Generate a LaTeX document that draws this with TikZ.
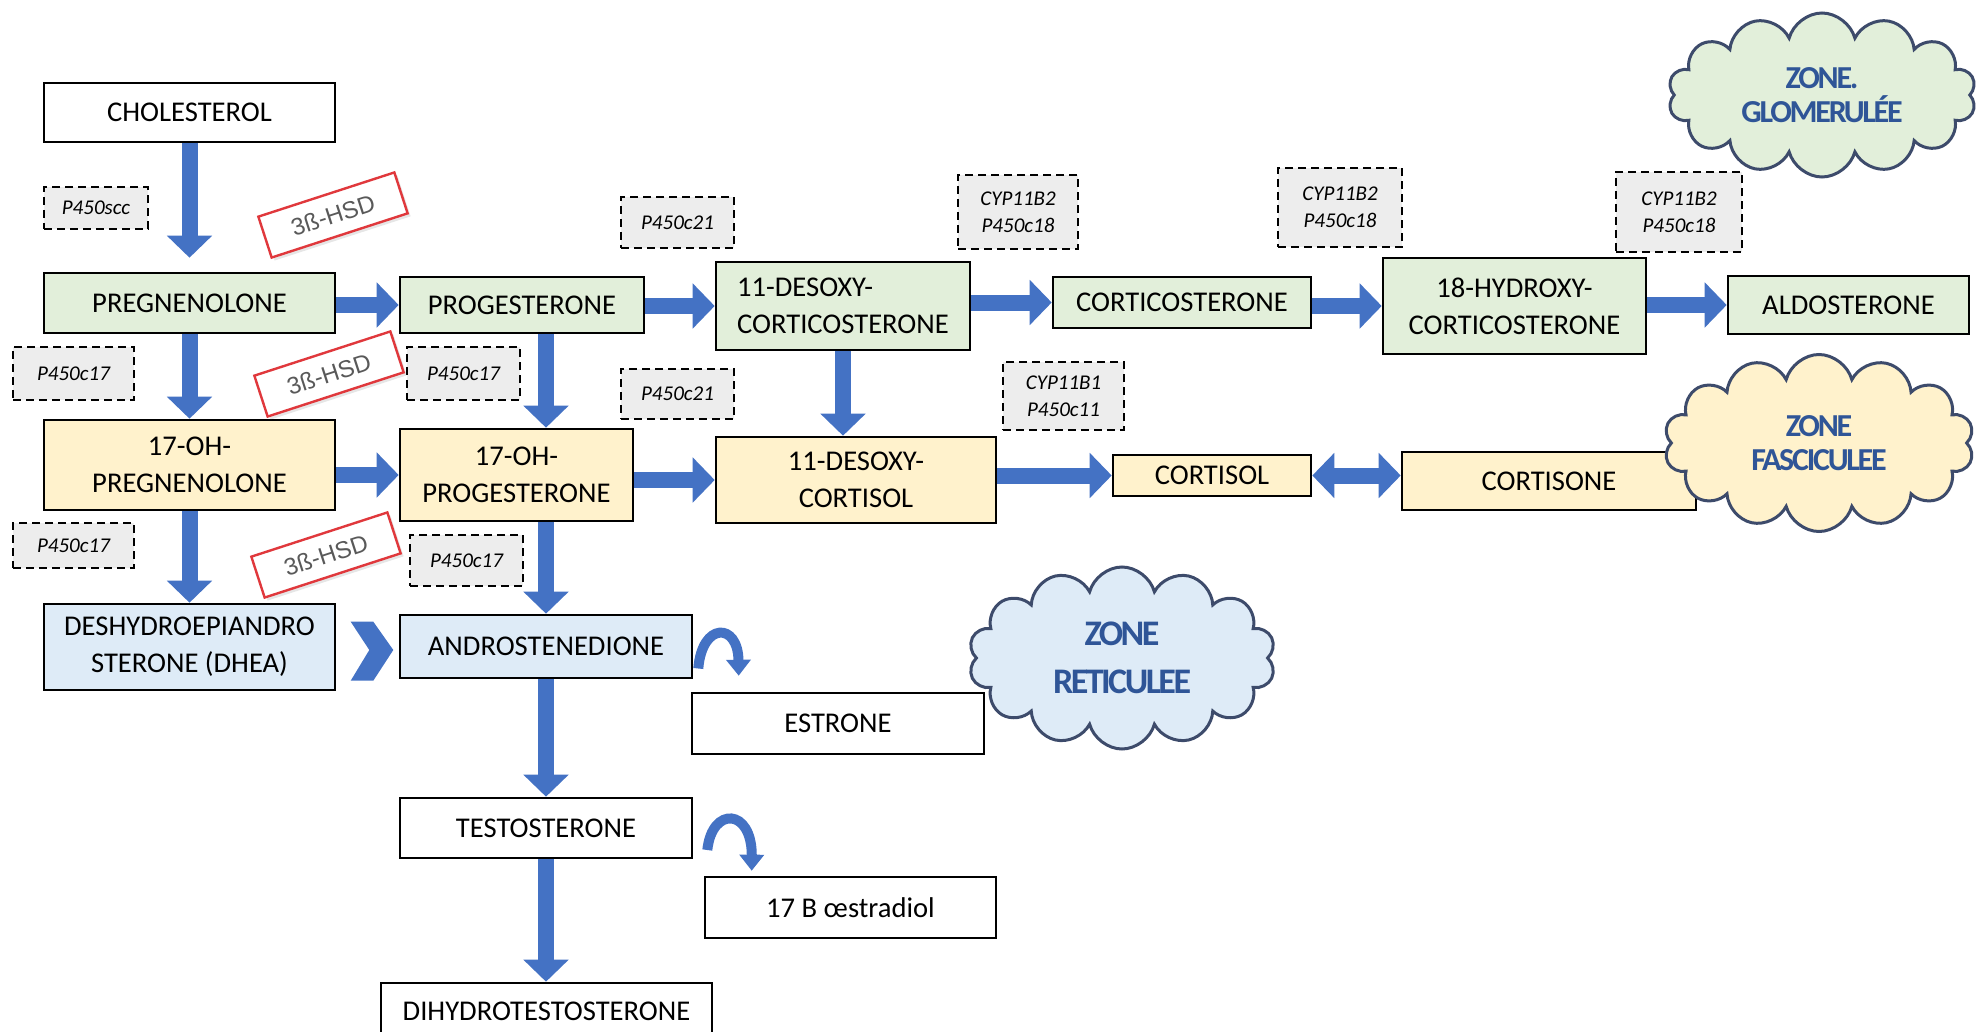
\documentclass[tikz,border=0pt]{standalone}
\usepackage{fontspec}
\setmainfont{Carlito}
\newfontfamily\hsdfont{Liberation Sans}
\usetikzlibrary{arrows.meta,shapes.symbols,shadows}

\definecolor{glom}{HTML}{E2EFDA}
\definecolor{fasc}{HTML}{FFF2CC}
\definecolor{reti}{HTML}{DEEBF7}
\definecolor{enz}{HTML}{EDEDED}
\definecolor{flowblue}{HTML}{4472C4}
\definecolor{cloudline}{HTML}{3D4B6B}
\definecolor{zonetext}{HTML}{2F5597}
\definecolor{hsdred}{HTML}{E0383C}

\begin{document}
\begin{tikzpicture}[x=0.5pt, y=-0.5pt,
    wh/.style 2 args={minimum width=#1*0.5pt, minimum height=#2*0.5pt},
    mol/.style={draw=black, line width=1.3pt, align=center, inner sep=2pt,
        font=\fontsize{14.3}{18.5}\selectfont},
    enzyme/.style={draw=black, line width=1.3pt, dash pattern=on 4pt off 2.5pt, fill=enz,
        align=center, inner sep=1pt, font=\fontsize{10.5}{13.3}\selectfont\itshape},
    hsd/.style={draw=hsdred, line width=1.2pt, fill=white, rotate=18,
        minimum width=71.5pt, minimum height=21.5pt, text=black!65,
        font=\hsdfont\fontsize{12}{14}\selectfont,
        drop shadow={opacity=0.2, shadow xshift=1.5pt, shadow yshift=-1.5pt}},
    flow/.style={draw=flowblue, line width=8pt, -{Triangle[width=22pt,length=11pt]}},
    turn/.style={draw=flowblue, line width=5pt, -{Triangle[width=12pt,length=8pt]}},
    zone/.style={cloud, cloud puffs=14, cloud ignores aspect, draw=cloudline, line width=1.5pt,
        align=center, text=zonetext,
        font=\bfseries\fontsize{16}{17}\selectfont\addfontfeature{LetterSpace=-7}}]

    \useasboundingbox (0,0) rectangle (1984,1032);

    % Molecules, zone glomerulee
    \node[mol, wh={291}{59}] (chol) at (189.5,112.5) {CHOLESTEROL};
    \node[mol, fill=glom, wh={291}{60}] (preg) at (189.5,303) {PREGNENOLONE};
    \node[mol, fill=glom, wh={244}{56}] (prog) at (522,305) {PROGESTERONE};
    \node[mol, fill=glom, wh={254}{88}, align=left] (doc) at (843,306) {11-DESOXY-\\CORTICOSTERONE};
    \node[mol, fill=glom, wh={258}{51}] (cort) at (1182,302.5) {CORTICOSTERONE};
    \node[mol, fill=glom, wh={263}{96}] (hcort) at (1514.5,306) {18-HYDROXY-\\CORTICOSTERONE};
    \node[mol, fill=glom, wh={241}{58}] (aldo) at (1848.5,305) {ALDOSTERONE};

    % Molecules, zone fasciculee
    \node[mol, fill=fasc, wh={291}{90}] (ohpreg) at (189.5,465) {17-OH-\\PREGNENOLONE};
    \node[mol, fill=fasc, wh={233}{92}] (ohprog) at (516.5,475) {17-OH-\\PROGESTERONE};
    \node[mol, fill=fasc, wh={280}{86}] (dcortisol) at (856,480) {11-DESOXY-\\CORTISOL};
    \node[mol, fill=fasc, wh={198}{41}] (cortisol) at (1212,475.5) {CORTISOL};
    \node[mol, fill=fasc, wh={294}{58}] (cortisone) at (1549,481) {CORTISONE};

    % Molecules, zone reticulee
    \node[mol, fill=reti, wh={291}{86}] (dhea) at (189.5,647) {DESHYDROEPIANDRO\\STERONE (DHEA)};
    \node[mol, fill=reti, wh={292}{63}] (andro) at (546,646.5) {ANDROSTENEDIONE};
    \node[mol, wh={292}{61}] (estrone) at (838,723.5) {ESTRONE};
    \node[mol, wh={292}{60}] (testo) at (546,828) {TESTOSTERONE};
    \node[mol, wh={291}{61}] (estradiol) at (850.5,907.5) {17 B œstradiol};
    \node[mol, wh={331}{56}] (dht) at (546.5,1011) {DIHYDROTESTOSTERONE};

    % Enzymes
    \node[enzyme, wh={104}{42}] (scc) at (96,208) {P450scc};
    \node[enzyme, wh={113}{51}] (c21a) at (677.5,222.5) {P450c21};
    \node[enzyme, wh={120}{74}] (c18a) at (1018,212) {CYP11B2\\P450c18};
    \node[enzyme, wh={124}{79}] (c18b) at (1340,207.5) {CYP11B2\\P450c18};
    \node[enzyme, wh={126}{80}] (c18c) at (1679,212) {CYP11B2\\P450c18};
    \node[enzyme, wh={121}{53}] (c17a) at (73.5,373.5) {P450c17};
    \node[enzyme, wh={113}{53}] (c17b) at (463.5,373.5) {P450c17};
    \node[enzyme, wh={113}{50}] (c21b) at (677.5,394) {P450c21};
    \node[enzyme, wh={121}{68}] (c11) at (1063.5,396) {CYP11B1\\P450c11};
    \node[enzyme, wh={121}{45}] (c17c) at (73.5,545.5) {P450c17};
    \node[enzyme, wh={113}{51}] (c17d) at (466.5,560.5) {P450c17};

    \foreach \n/\x/\y in {1/333/215, 2/329/374, 3/326/555}
        \node[hsd] (hsd\n) at (\x,\y) {3ß-HSD};

    % Horizontal steps
    \foreach \a/\b in {preg/prog, prog/doc, doc/cort, cort/hcort, hcort/aldo,
                       ohpreg/ohprog, ohprog/dcortisol, dcortisol/cortisol}
        \draw[flow] (\a.east |- \b.west) -- (\b.west);
    \draw[draw=flowblue, line width=8pt, {Triangle[width=22pt,length=11pt]}-{Triangle[width=22pt,length=11pt]}]
        (cortisol.east) -- (cortisone.west |- cortisol.east);

    % Vertical steps
    \draw[flow, shorten >=7pt] (chol) -- (preg);
    \draw[flow] (preg) -- (ohpreg);
    \draw[flow] (ohpreg) -- (dhea);
    \draw[flow] (doc.south) -- (doc.south |- dcortisol.north);
    \foreach \a/\b in {prog/ohprog, ohprog/andro, andro/testo, testo/dht}
        \draw[flow] (\a.south -| andro) -- (\b.north -| andro);

    % DHEA to androstenedione
    \fill[flowblue] (350.7,621.7) -- (373.3,621.7) -- (393.3,650) -- (373.3,680.7)
        -- (350.7,680.7) -- (369.3,650) -- cycle;

    % Aromatisation
    \draw[turn] ([shift={(2.5pt,-11pt)}]andro.east) .. controls (702,622) and (738,622)
        .. ([shift={(24pt,8pt)}]estrone.north west);
    \draw[turn] ([shift={(7pt,-11pt)}]testo.east) .. controls (712,806) and (752,808)
        .. ([shift={(24pt,2.5pt)}]estradiol.north west);

    % Zones
    \node[zone, fill=glom, wh={308}{164}] (zglom) at (1822,95) {ZONE.\\GLOMERULÉE};
    \node[zone, fill=fasc, wh={310}{177}] (zfasc) at (1819,443) {ZONE\\FASCICULEE};
    \node[zone, fill=reti, wh={307}{182},
        font=\bfseries\fontsize{18}{24}\selectfont\addfontfeature{LetterSpace=-7}] (zreti) at (1122,658) {ZONE\\RETICULEE};
\end{tikzpicture}
\end{document}
